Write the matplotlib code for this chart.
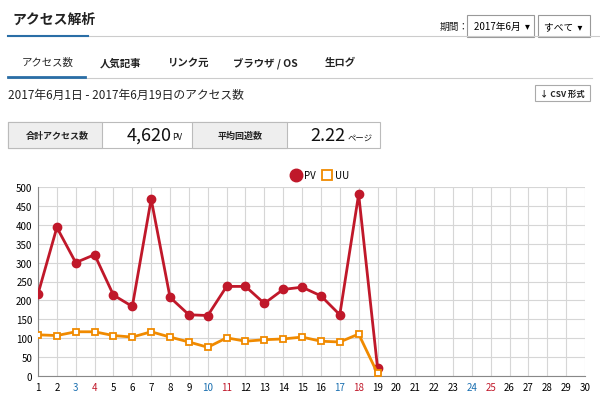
import matplotlib.pyplot as plt
from matplotlib.patches import Rectangle
from matplotlib.lines import Line2D

plt.rcParams["font.family"] = ["Noto Sans CJK JP", "DejaVu Sans"]

days = list(range(1, 20))
pv = [217, 393, 300, 321, 214, 184, 468, 208, 162, 160, 237, 237, 192, 229, 235, 212, 162, 481, 22]
uu = [109, 107, 117, 117, 107, 103, 117, 103, 90, 76, 101, 92, 96, 98, 103, 92, 90, 111, 7]
xticks = list(range(1, 31))
saturdays = [3, 10, 17, 24]
sundays = [4, 11, 18, 25]

W, H = 600, 410
fig = plt.figure(figsize=(6, 4.1), dpi=100)

def px(x, y):
    return x / W, 1 - y / H

def text(x, y, s, **kw):
    fig.text(*px(x, y), s, va="center", **kw)

def box(x0, y0, x1, y1, fc="white", ec="#bbbbbb", lw=0.8):
    fig.patches.append(Rectangle(px(x0, y1), (x1 - x0) / W, (y1 - y0) / H,
                                 transform=fig.transFigure, fc=fc, ec=ec, lw=lw))

def hline(x0, x1, y, c, lw):
    fig.lines.append(Line2D([x0 / W, x1 / W], [1 - y / H] * 2, transform=fig.transFigure, color=c, lw=lw))

# header
text(12, 20, "アクセス解析", fontsize=10, fontweight="bold", color="#222222")
hline(8, 600, 37, "#cccccc", 0.8)
hline(8, 88, 37, "#2a6ea6", 1.5)
text(440, 27, "期間：", fontsize=7, color="#222222")
box(467, 16, 534, 38, ec="#999999")
text(474, 27, "2017年6月  ▾", fontsize=7)
box(538, 16, 590, 38, ec="#999999")
text(544, 27, "すべて  ▾", fontsize=7)

# tabs
tabs = [(22, "アクセス数", "normal"), (100, "人気記事", "bold"), (168, "リンク元", "bold"),
        (233, "ブラウザ / OS", "bold"), (325, "生ログ", "bold")]
for x, s, w in tabs:
    text(x, 63, s, fontsize=7.5, fontweight=w, color="#222222")
hline(8, 592, 79, "#cccccc", 0.8)
hline(8, 85, 78, "#2a6ea6", 2)

text(8, 95, "2017年6月1日 - 2017年6月19日のアクセス数", fontsize=8.5, color="#222222")
box(535, 86, 590, 102, ec="#aaaaaa")
text(540, 94, "↓ CSV 形式", fontsize=6, fontweight="bold", color="#222222")

# summary box
box(8, 123, 380, 149, ec="#bbbbbb")
box(8, 123, 102, 149, fc="#eeeeee", ec="#bbbbbb")
box(192, 123, 287, 149, fc="#eeeeee", ec="#bbbbbb")
text(26, 136, "合計アクセス数", fontsize=6.5, fontweight="bold", color="#222222")
text(127, 136, "4,620", fontsize=13, color="#111111")
text(172, 138, "PV", fontsize=6, color="#111111")
text(218, 136, "平均回遊数", fontsize=6.5, fontweight="bold", color="#222222")
text(310, 136, "2.22", fontsize=13, color="#111111")
text(348, 138, "ページ", fontsize=6, color="#111111")

# chart
ax = fig.add_axes([38 / W, 1 - 377 / H, (585 - 38) / W, (377 - 188) / H])
ax.plot(days, pv, color="#c0182a", lw=2, marker="o", ms=6, label="PV", zorder=3)
ax.plot(days, uu, color="#f08a00", lw=2, marker="s", ms=5, mfc="white", mew=1.3, label="UU", zorder=3)
ax.set_xlim(1, 30)
ax.set_ylim(0, 500)
ax.set_xticks(xticks)
ax.set_yticks(range(0, 501, 50))
ax.grid(True, color="#d6d6d6", lw=0.8)
for s in ["top", "right"]:
    ax.spines[s].set_visible(False)
for s in ["left", "bottom"]:
    ax.spines[s].set_color("#888888")
ax.tick_params(length=0, labelsize=7, pad=4)
ax.set_xticklabels([str(d) for d in xticks])
for lab, d in zip(ax.get_xticklabels(), xticks):
    if d in saturdays:
        lab.set_color("#1a6fb0")
    elif d in sundays:
        lab.set_color("#c0182a")
ax.legend(loc="lower center", bbox_to_anchor=(0.52, 1.0), ncol=2, frameon=False,
          fontsize=7, handlelength=0, markerscale=1.5, columnspacing=1.2, borderpad=0.2)

fig.savefig("out.png", dpi=100)
